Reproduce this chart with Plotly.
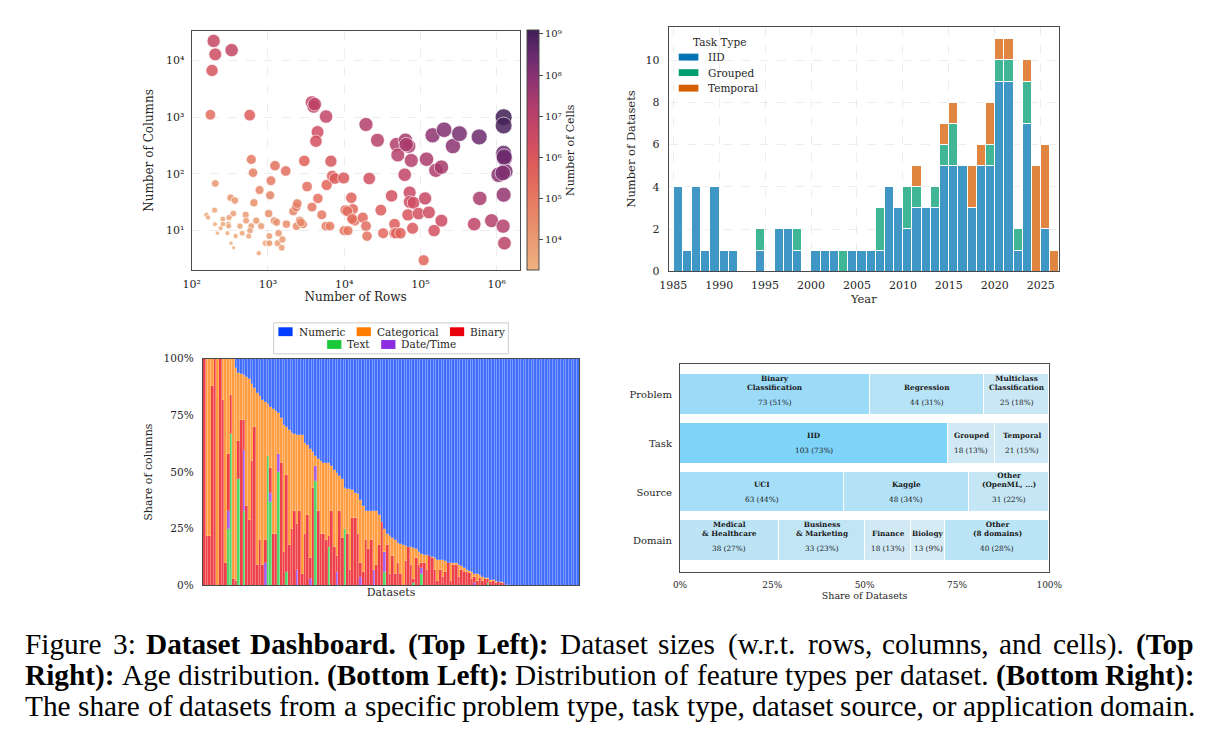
import numpy as np
import plotly.graph_objects as go

# ------------------------------------------------------------------ data
# Top left: dataset sizes
rows = [194, 204, 334, 185, 176, 577, 3780, 3980, 5780, 4470,
        4260, 605, 637, 1237, 1710, 1096, 776, 1070, 655, 204,
        324, 369, 200, 352, 309, 256, 156, 164, 202, 257,
        303, 305, 218, 294, 377, 328, 355, 511, 517, 603,
        582, 459, 560, 703, 815, 760, 927, 1023, 1043, 1023,
        1210, 1300, 1377, 1337, 1550, 1515, 1746, 2150, 2350, 2420,
        2370, 2620, 2890, 3000, 3260, 3780, 4520, 5080, 5890, 5730,
        6510, 6700, 6980, 7550, 9860, 9950, 11200, 10350, 12400, 13000,
        12600, 13700, 17500, 19300, 19900, 19300, 21300, 27300, 30200, 32400,
        41800, 45700, 45700, 48000, 54600, 48500, 50400, 63400, 70000, 75700,
        62100, 72100, 72100, 81100, 68500, 78700, 94200, 115000, 129000, 110000,
        151000, 188000, 120000, 159000, 188000, 144000, 204000, 266000, 324000, 588000,
        599000, 506000, 855000, 1060000, 1230000, 1230000, 1230000, 1260000, 1290000, 1200000,
        1230000, 1210000, 1260000, 1250000, 4100, 1050, 2700, 65000, 11000, 240,
        430, 12700]
cols = [22200, 12900, 15300, 6700, 1110, 1090, 1820, 1550, 1030, 550,
        378, 180, 105, 140, 113, 76, 52, 42, 31, 68,
        38, 34, 23, 20, 17, 16, 19, 17, 13, 13,
        13, 12, 9, 9, 8, 6, 5, 19, 15, 12,
        10, 9, 8, 15, 12, 4, 6, 6, 8, 20,
        15, 14, 9, 6, 7, 5, 13, 22, 26, 30,
        12, 15, 13, 170, 60, 26, 37, 19, 64, 12,
        12, 168, 92, 83, 85, 10, 10, 23, 38, 24,
        17, 15, 17, 12, 8, 746, 83, 393, 23, 9,
        41, 13, 9, 9, 9, 331, 216, 393, 310, 173,
        97, 47, 32, 31, 19, 11, 20, 37, 21, 3,
        10, 15, 182, 116, 132, 481, 603, 310, 514, 450,
        37, 13, 15, 97, 1000, 716, 231, 189, 111, 104,
        43, 12, 6, 200, 1700, 6, 14, 330, 22, 11,
        12, 16]
rows_ticks = [100, 1000, 10000, 100000, 1000000]
cols_ticks = [10, 100, 1000, 10000]
cells_ticks = [4, 5, 6, 7, 8, 9]

# Top right: age distribution
years = [1985, 1986, 1987, 1988, 1989, 1990, 1991, 1992, 1993, 1994,
         1995, 1996, 1997, 1998, 1999, 2000, 2001, 2002, 2003, 2004,
         2005, 2006, 2007, 2008, 2009, 2010, 2011, 2012, 2013, 2014,
         2015, 2016, 2017, 2018, 2019, 2020, 2021, 2022, 2023, 2024,
         2025, 2026]
iid = [4, 1, 4, 1, 4, 1, 1, 0, 0, 1,
       0, 2, 2, 1, 0, 1, 1, 1, 0, 1,
       1, 1, 1, 4, 3, 2, 3, 3, 3, 5,
       5, 5, 3, 5, 5, 9, 9, 1, 7, 0,
       2, 0]
grouped = [0, 0, 0, 0, 0, 0, 0, 0, 0, 1,
           0, 0, 0, 1, 0, 0, 0, 0, 1, 0,
           0, 0, 2, 0, 0, 2, 1, 0, 1, 1,
           2, 0, 0, 0, 1, 1, 1, 1, 2, 0,
           0, 0]
temporal = [0, 0, 0, 0, 0, 0, 0, 0, 0, 0,
            0, 0, 0, 0, 0, 0, 0, 0, 0, 0,
            0, 0, 0, 0, 0, 0, 1, 0, 0, 1,
            1, 0, 2, 1, 2, 1, 1, 0, 1, 5,
            4, 1]
year_ticks = [1985, 1990, 1995, 2000, 2005, 2010, 2015, 2020, 2025]
count_ticks = [0, 2, 4, 6, 8, 10]

# Bottom left: share of feature types per dataset (percent)
text_share = [0, 0, 0, 0, 0, 0, 0, 0, 0, 25,
              67, 0, 0, 47, 0, 33, 0, 0, 0, 0,
              0, 0, 0, 0, 57, 37, 0, 0, 50, 0,
              0, 6, 0, 0, 0, 0, 0, 0, 0, 0,
              0, 0, 46, 0, 0, 0, 0, 17, 0, 0,
              0, 0, 0, 25, 0, 0, 0, 0, 0, 0,
              0, 0, 0, 0, 0, 0, 0, 0, 6, 0,
              0, 0, 0, 0, 0, 0, 0, 0, 0, 1,
              0, 0, 5, 0, 0, 0, 0, 0, 0, 0,
              0, 0, 0, 0, 0, 0, 0, 0, 0, 0,
              0, 0, 0, 0, 0, 0, 0, 1, 0, 0,
              0, 0, 0, 0, 0, 0, 0, 0, 0, 0,
              0, 0, 0, 0, 0, 0, 0, 0, 0, 0,
              0, 0, 0, 0, 0, 0, 0, 0, 0, 0,
              0, 0]
datetime_share = [0, 0, 0, 0, 0, 0, 0, 0, 0, 8,
                  0, 0, 0, 0, 0, 27, 0, 0, 0, 0,
                  0, 0, 0, 10, 0, 4, 0, 0, 8, 0,
                  0, 0, 0, 0, 0, 7, 0, 0, 0, 0,
                  3, 0, 7, 0, 0, 0, 0, 0, 0, 0,
                  6, 0, 0, 0, 0, 0, 0, 0, 0, 4,
                  0, 0, 0, 0, 7, 0, 0, 0, 9, 0,
                  0, 0, 0, 0, 0, 0, 0, 0, 0, 0,
                  0, 0, 3, 0, 0, 0, 0, 0, 0, 0,
                  0, 0, 0, 0, 0, 0, 0, 0, 0, 0,
                  0, 0, 1, 0, 0, 0, 0, 0, 0, 0,
                  0, 0, 0, 0, 0, 0, 0, 0, 0, 0,
                  0, 0, 0, 0, 0, 0, 0, 0, 0, 0,
                  0, 0, 0, 0, 0, 0, 0, 0, 0, 0,
                  0, 0]
binary_share = [100, 22, 22, 88, 100, 0, 100, 82, 10, 25,
                17, 3, 2, 17, 73, 13, 35, 29, 55, 70,
                9, 20, 9, 10, 0, 11, 23, 23, 0, 54,
                15, 43, 18, 25, 33, 20, 33, 5, 23, 31,
                9, 43, 0, 33, 23, 23, 20, 5, 33, 17,
                7, 33, 21, 0, 23, 7, 30, 30, 23, 6,
                6, 20, 16, 20, 0, 9, 18, 28, 0, 18,
                5, 13, 5, 10, 5, 0, 11, 17, 9, 2,
                12, 9, 2, 10, 7, 13, 12, 7, 2, 7,
                4, 6, 10, 2, 9, 9, 4, 7, 6, 6,
                5.5, 3, 3, 2, 3.5, 2, 3, 2, 1.5, 2,
                1, 1.5, 1, 1, 0.5, 0.3, 0, 0, 0, 0,
                0, 0, 0, 0, 0, 0, 0, 0, 0, 0,
                0, 0, 0, 0, 0, 0, 0, 0, 0, 0,
                0, 0]
categorical_share = [0, 78, 78, 12, 0, 100, 0, 18, 90, 42,
                     16, 97, 94, 30, 20.5, 20, 57, 62, 34, 17,
                     76, 63.5, 73, 61, 23, 27, 55, 54, 18, 20,
                     56, 21, 50.5, 42.5, 34, 39.5, 33.5, 61.5, 40, 31,
                     48.5, 16, 4, 23, 32, 31, 34, 32, 20, 34,
                     36.5, 15.5, 26, 18, 19.5, 35.5, 12, 11, 17.5, 28,
                     29, 13, 17, 13, 26, 24, 13, 0, 10, 5,
                     17, 8, 15, 9, 13.5, 18, 6.5, 0, 8, 13.5,
                     4, 6, 4, 3.5, 6.5, 0, 0.5, 5, 9.5, 4.5,
                     7.5, 5, 0, 8, 1, 1, 5, 1.5, 2, 1,
                     1, 3, 1, 3, 1, 2, 0.5, 0.5, 1, 0.5,
                     1, 0, 0.5, 0, 0, 0, 0, 0, 0, 0,
                     0, 0, 0, 0, 0, 0, 0, 0, 0, 0,
                     0, 0, 0, 0, 0, 0, 0, 0, 0, 0,
                     0, 0]
numeric_share = [0, 0, 0, 0, 0, 0, 0, 0, 0, 0,
                 0, 0, 4, 6, 6.5, 7, 8, 9, 11, 13,
                 15, 16.5, 18, 19, 20, 21, 22, 23, 24, 26,
                 29, 30, 31.5, 32.5, 33, 33.5, 33.5, 33.5, 37, 38,
                 39.5, 41, 43, 44, 45, 46, 46, 46, 47, 49,
                 50.5, 51.5, 53, 57, 57.5, 57.5, 58, 59, 59.5, 62,
                 65, 67, 67, 67, 67, 67, 69, 72, 75, 77,
                 78, 79, 80, 81, 81.5, 82, 82.5, 83, 83, 83.5,
                 84, 85, 86, 86.5, 86.5, 87, 87.5, 88, 88.5, 88.5,
                 88.5, 89, 90, 90, 90, 90, 91, 91.5, 92, 93,
                 93.5, 94, 95, 95, 95.5, 96, 96.5, 96.5, 97.5, 97.5,
                 98, 98.5, 98.5, 99, 99.5, 99.7, 100, 100, 100, 100,
                 100, 100, 100, 100, 100, 100, 100, 100, 100, 100,
                 100, 100, 100, 100, 100, 100, 100, 100, 100, 100,
                 100, 100]
share_ticks = [0, 25, 50, 75, 100]

# Bottom right: composition of the benchmark
br_rows = ["Problem", "Task", "Source", "Domain"]
br_labels = [
    ["Binary<br>Classification", "Regression", "Multiclass<br>Classification"],
    ["IID", "Grouped", "Temporal"],
    ["UCI", "Kaggle", "Other<br>(OpenML, ...)"],
    ["Medical<br>&amp; Healthcare", "Business<br>&amp; Marketing", "Finance", "Biology",
     "Other<br>(8 domains)"],
]
br_counts = [
    [73, 44, 25],
    [103, 18, 21],
    [63, 48, 31],
    [38, 33, 18, 13, 40],
]
pct_ticks = [0, 0.25, 0.5, 0.75, 1.0]

caption_lines = [
    "Figure 3: <b>Dataset Dashboard.</b> <b>(Top Left):</b> Dataset sizes (w.r.t. rows, columns, and cells). <b>(Top</b>",
    "<b>Right):</b> Age distribution. <b>(Bottom Left):</b> Distribution of feature types per dataset. <b>(Bottom Right):</b>",
    "The share of datasets from a specific problem type, task type, dataset source, or application domain.",
]

# ------------------------------------------------------------------ style helpers
W, H = 1224, 745
FONT = "DejaVu Serif"
TXT = "#262626"
FRAME = "#4a4a4a"
GRID = "rgba(0,0,0,0.07)"
SUP = str.maketrans("0123456789-", "⁰¹²³⁴⁵⁶⁷⁸⁹⁻")


def px(x):
    return x / W


def py(y):
    return 1 - y / H


def pow10(k):
    return "10" + str(int(round(k))).translate(SUP)


def blend(hexc, a):
    r, g, b = int(hexc[1:3], 16), int(hexc[3:5], 16), int(hexc[5:7], 16)
    return "rgb(%d,%d,%d)" % (round(a * r + (1 - a) * 255), round(a * g + (1 - a) * 255),
                              round(a * b + (1 - a) * 255))


fig = go.Figure()
shapes = []
annotations = []

# ------------------------------------------------------------------ top left scatter
cells = np.array(rows, dtype=float) * np.array(cols, dtype=float)
logc = np.log10(cells)
area = 16 + (logc - logc.min()) / (logc.max() - logc.min()) * 273
sizes = np.sqrt(area)
flare = [[0.0, "#EEB180"], [0.14, "#EA9870"], [0.28, "#E67C63"], [0.42, "#E0605A"],
         [0.55, "#CD4A62"], [0.68, "#B03E6C"], [0.8, "#8B3272"], [0.9, "#672A6D"],
         [1.0, "#3F1F56"]]
fig.add_trace(go.Scatter(
    x=rows, y=cols, mode="markers", xaxis="x", yaxis="y", showlegend=False,
    marker=dict(size=sizes, color=logc, colorscale=flare, cmin=logc.min(), cmax=logc.max(),
                opacity=0.85, line=dict(color="white", width=0.7),
                colorbar=dict(x=px(527), xanchor="left", y=py(269), yanchor="bottom",
                              len=(269 - 25) / H, lenmode="fraction", thickness=12,
                              xpad=0, ypad=0, outlinewidth=1, outlinecolor=FRAME,
                              ticks="outside", ticklen=4, tickcolor=FRAME,
                              tickvals=cells_ticks,
                              ticktext=[pow10(v) for v in cells_ticks],
                              tickfont=dict(family=FONT, size=10, color=TXT),
                              title=dict(text="Number of Cells", side="right",
                                         font=dict(family=FONT, size=11, color=TXT))))))

# ------------------------------------------------------------------ top right histogram
tr_cols = {"IID": "#0173B2", "Grouped": "#029E73", "Temporal": "#D55E00"}
for name, vals in [("IID", iid), ("Grouped", grouped), ("Temporal", temporal)]:
    fig.add_trace(go.Bar(x=years, y=vals, offset=0, width=1, xaxis="x2", yaxis="y2",
                         showlegend=False, name=name,
                         marker=dict(color=blend(tr_cols[name], 0.75),
                                     line=dict(color="white", width=1))))

# ------------------------------------------------------------------ bottom left stacked shares
idx = list(range(len(numeric_share)))
bl_cols = {"Numeric": "#023EFF", "Categorical": "#FF7C00", "Binary": "#E8000B",
           "Text": "#1AC938", "Date/Time": "#8B2BE2"}
for name, vals in [("Text", text_share), ("Date/Time", datetime_share), ("Binary", binary_share),
                   ("Categorical", categorical_share), ("Numeric", numeric_share)]:
    fig.add_trace(go.Bar(x=idx, y=vals, xaxis="x3", yaxis="y3", showlegend=False, name=name,
                         marker=dict(color=blend(bl_cols[name], 0.75),
                                     line=dict(color="rgba(255,255,255,0.45)", width=0.4))))

# ------------------------------------------------------------------ bottom right composition
total = sum(br_counts[0])
hi = np.array([125, 211, 248])
lo = np.array([226, 238, 244])
for r, (row, labels, counts) in enumerate(zip(br_rows, br_labels, br_counts)):
    cum = 0.0
    for lab, c in zip(labels, counts):
        s = c / total
        t = min(s / 0.73, 1.0)
        colr = lo + (hi - lo) * t
        fig.add_trace(go.Bar(x=[s], y=[row], base=[cum], orientation="h", width=0.86,
                             xaxis="x4", yaxis="y4", showlegend=False,
                             marker=dict(color="rgb(%d,%d,%d)" % tuple(np.round(colr)),
                                         line=dict(color="white", width=1.5))))
        annotations.append(dict(x=cum + s / 2, y=row, xref="x4", yref="y4",
                                text="<b>%s</b>" % lab, showarrow=False, yanchor="bottom",
                                yshift=1, font=dict(family=FONT, size=7.3, color="#1a1a1a")))
        annotations.append(dict(x=cum + s / 2, y=row, xref="x4", yref="y4",
                                text="%d (%d%%)" % (c, round(100 * s)), showarrow=False,
                                yanchor="top", yshift=-1,
                                font=dict(family=FONT, size=7.3, color="#1a1a1a")))
        cum += s

# ------------------------------------------------------------------ legends (drawn)
# top right legend
annotations.append(dict(x=px(694), y=py(37), xref="paper", yref="paper", text="Task Type",
                        showarrow=False, xanchor="left", yanchor="middle",
                        font=dict(family=FONT, size=10.5, color=TXT)))
for i, name in enumerate(["IID", "Grouped", "Temporal"]):
    yc = 52 + 15.8 * i
    shapes.append(dict(type="rect", xref="paper", yref="paper", x0=px(682), x1=px(702),
                       y0=py(yc + 3.5), y1=py(yc - 3.5), fillcolor=tr_cols[name],
                       line=dict(width=0)))
    annotations.append(dict(x=px(710), y=py(yc), xref="paper", yref="paper", text=name,
                            showarrow=False, xanchor="left", yanchor="middle",
                            font=dict(family=FONT, size=10.5, color=TXT)))

# bottom left legend
shapes.append(dict(type="rect", xref="paper", yref="paper", x0=px(269.5), x1=px(508.5),
                   y0=py(354), y1=py(322.5), fillcolor="white",
                   line=dict(color="#cccccc", width=1)))
bl_leg = [("Numeric", 274.3, 331.5), ("Categorical", 354, 331.5), ("Binary", 449, 331.5),
          ("Text", 324, 344.5), ("Date/Time", 379, 344.5)]
for name, x0, yc in bl_leg:
    shapes.append(dict(type="rect", xref="paper", yref="paper", x0=px(x0), x1=px(x0 + 14.5),
                       y0=py(yc + 4.5), y1=py(yc - 4.5), fillcolor=bl_cols[name],
                       line=dict(width=0)))
    annotations.append(dict(x=px(x0 + 18.5), y=py(yc), xref="paper", yref="paper", text=name,
                            showarrow=False, xanchor="left", yanchor="middle",
                            font=dict(family=FONT, size=10.5, color=TXT)))

# ------------------------------------------------------------------ caption (justified)
REG = {' ': 250, '(': 333, ')': 333, ',': 250, '-': 333, '.': 250, '/': 278, ':': 278,
       'A': 722, 'B': 667, 'C': 667, 'D': 722, 'E': 611, 'F': 556, 'G': 722, 'H': 722,
       'I': 333, 'J': 389, 'K': 722, 'L': 611, 'M': 889, 'N': 722, 'O': 722, 'P': 556,
       'Q': 722, 'R': 667, 'S': 556, 'T': 611, 'U': 722, 'V': 722, 'W': 944, 'X': 722,
       'Y': 722, 'Z': 611, 'a': 444, 'b': 500, 'c': 444, 'd': 500, 'e': 444, 'f': 333,
       'g': 500, 'h': 500, 'i': 278, 'j': 278, 'k': 500, 'l': 278, 'm': 778, 'n': 500,
       'o': 500, 'p': 500, 'q': 500, 'r': 333, 's': 389, 't': 278, 'u': 500, 'v': 500,
       'w': 722, 'x': 500, 'y': 500, 'z': 444}
BOLD = {' ': 250, '(': 333, ')': 333, ',': 250, '.': 250, ':': 333,
        'A': 722, 'B': 667, 'C': 722, 'D': 722, 'E': 667, 'F': 611, 'G': 778, 'H': 778,
        'I': 389, 'L': 667, 'M': 944, 'R': 722, 'S': 556, 'T': 667,
        'a': 500, 'b': 556, 'c': 444, 'd': 556, 'e': 444, 'f': 333, 'g': 500, 'h': 556,
        'i': 278, 'k': 556, 'l': 278, 'm': 833, 'n': 556, 'o': 500, 'p': 556, 'r': 444,
        's': 389, 't': 333, 'u': 556, 'w': 722, 'y': 500}
CAP_SIZE = 29.3
CAP_L, CAP_R = 17, 1207


def tokens(line):
    out, bold = [], False
    for w in line.split(" "):
        if w.startswith("<b>"):
            bold, w = True, w[3:]
        end = w.endswith("</b>")
        if end:
            w = w[:-4]
        out.append((w, bold))
        if end:
            bold = False
    return out


for i, line in enumerate(caption_lines):
    toks = tokens(line)
    widths = [sum((BOLD if b else REG).get(ch, 500) for ch in w) * CAP_SIZE / 1000.0
              for w, b in toks]
    gap = (CAP_R - CAP_L - sum(widths)) / (len(toks) - 1)
    x = CAP_L
    for (w, b), wd in zip(toks, widths):
        annotations.append(dict(x=px(x + wd / 2), y=py(649.5 + 31.7 * i), xref="paper",
                                yref="paper", text=("<b>%s</b>" % w) if b else w,
                                showarrow=False, xanchor="center", yanchor="middle",
                                font=dict(family="Liberation Serif", size=CAP_SIZE,
                                          color="black")))
        x += wd + gap


# ------------------------------------------------------------------ axes
def frame_axis(**kw):
    base = dict(showline=True, mirror=True, linecolor=FRAME, linewidth=1, ticks="",
                zeroline=False, tickfont=dict(family=FONT, size=11, color=TXT))
    base.update(kw)
    return base


def title(t, size=11.5, standoff=4):
    return dict(text=t, font=dict(family=FONT, size=size, color=TXT), standoff=standoff)


fig.update_layout(
    width=W, height=H, margin=dict(l=0, r=0, t=0, b=0),
    paper_bgcolor="white", plot_bgcolor="white",
    barmode="stack", bargap=0,
    font=dict(family=FONT, color=TXT),
    xaxis=frame_axis(domain=[px(186), px(520)], anchor="y", type="log", range=[2, 6.3],
                     tickvals=rows_ticks, ticktext=[pow10(np.log10(v)) for v in rows_ticks],
                     showgrid=True, gridcolor=GRID, griddash="dash", gridwidth=1,
                     ticklabelstandoff=3,
                     title=title("Number of Rows", size=12, standoff=3)),
    yaxis=frame_axis(domain=[py(269), py(25)], anchor="x", type="log", range=[0.3, 4.53],
                     tickvals=cols_ticks, ticktext=[pow10(np.log10(v)) for v in cols_ticks],
                     showgrid=True, gridcolor=GRID, griddash="dash", gridwidth=1,
                     ticklabelstandoff=4,
                     title=title("Number of Columns", size=12, standoff=9)),
    xaxis2=frame_axis(domain=[px(671.7), px(1069.3)], anchor="y2", range=[1984.5, 2027.0],
                      tickvals=year_ticks, showgrid=True, gridcolor=GRID, griddash="dash",
                      ticklabelstandoff=4,
                      title=title("Year", standoff=2)),
    yaxis2=frame_axis(domain=[py(270), py(21)], anchor="x2", range=[0, 11.58],
                      tickvals=count_ticks, showgrid=True, gridcolor=GRID, griddash="dash",
                      ticklabelstandoff=6,
                      title=title("Number of Datasets", standoff=7)),
    xaxis3=frame_axis(domain=[px(197.3), px(580.7)], anchor="y3",
                      range=[-0.5, len(idx) - 0.5], showticklabels=False,
                      title=title("Datasets", size=11, standoff=2)),
    yaxis3=frame_axis(domain=[py(589.7), py(359)], anchor="x3", range=[0, 100],
                      tickvals=share_ticks, ticktext=["%d%%" % v for v in share_ticks],
                      tickfont=dict(family=FONT, size=10.5, color=TXT),
                      ticklabelstandoff=6,
                      title=title("Share of columns", size=11, standoff=8)),
    xaxis4=frame_axis(domain=[px(683.3), px(1059.3)], anchor="y4", range=[0, 1],
                      tickvals=pct_ticks, ticktext=["%d%%" % round(100 * v) for v in pct_ticks],
                      tickfont=dict(family=FONT, size=9, color=TXT),
                      ticklabelstandoff=4,
                      title=title("Share of Datasets", size=9.5, standoff=2)),
    yaxis4=frame_axis(domain=[py(576), py(364)], anchor="x4", type="category",
                      categoryorder="array", categoryarray=br_rows, range=[3.64, -0.64],
                      ticklabelstandoff=5,
                      tickfont=dict(family=FONT, size=10, color=TXT)),
    shapes=shapes,
    annotations=annotations,
)

fig.write_html("out.html")
